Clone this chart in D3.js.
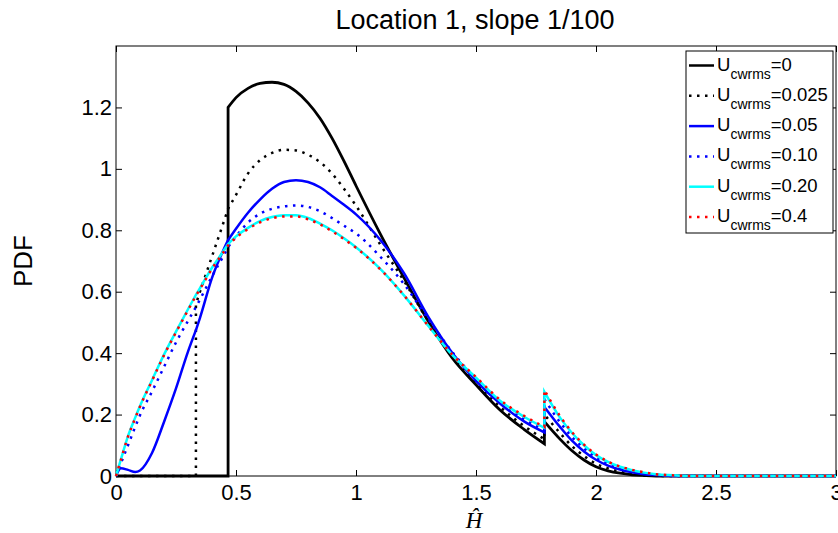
<!DOCTYPE html>
<html>
<head>
<meta charset="utf-8">
<script src="https://cdn.jsdelivr.net/npm/d3@7"></script>
<style>
  body { margin: 0; background: #fff; }
  text { font-family: "Liberation Sans", Arial, sans-serif; }
</style>
</head>
<body>
<div id="chart"></div>
<script>
// H-hat grid; repeated values mark the vertical jumps
const hHat = [0, 0.02, 0.05, 0.08, 0.1, 0.15, 0.2, 0.25, 0.3, 0.333, 0.333, 0.35, 0.4, 0.45, 0.467, 0.467,
  0.5, 0.55, 0.6, 0.65, 0.7, 0.75, 0.8, 0.85, 0.9, 0.95, 1.0, 1.1, 1.2, 1.3, 1.4, 1.5, 1.6, 1.7,
  1.785, 1.785, 1.85, 1.9, 1.95, 2.0, 2.05, 2.1, 2.15, 2.2, 2.25, 2.3, 2.35, 2.4, 2.5, 3.0];

const pdfU0 = [0, 0, 0, 0, 0, 0, 0, 0, 0, 0, 0, 0, 0, 0, 0, 1.2,
  1.232, 1.262, 1.278, 1.282, 1.275, 1.252, 1.215, 1.165, 1.1, 1.025, 0.945, 0.79, 0.645, 0.505, 0.385, 0.297, 0.215, 0.152,
  0.105, 0.177, 0.12, 0.082, 0.052, 0.03, 0.017, 0.009, 0.004, 0.0015, 0, 0, 0, 0, 0, 0];

const pdfU025 = [0, 0, 0, 0, 0, 0, 0, 0, 0, 0, 0.56, 0.6, 0.715, 0.83, 0.87, 0.87,
  0.915, 0.985, 1.028, 1.052, 1.062, 1.06, 1.046, 1.022, 0.985, 0.935, 0.88, 0.755, 0.635, 0.505, 0.39, 0.302, 0.225, 0.163,
  0.12, 0.2, 0.14, 0.097, 0.065, 0.04, 0.025, 0.014, 0.007, 0.003, 0.001, 0, 0, 0, 0, 0];

const pdfU05 = [0, 0.025, 0.02, 0.013, 0.018, 0.075, 0.176, 0.285, 0.405, 0.475, 0.475, 0.515, 0.645, 0.74, 0.768, 0.768,
  0.805, 0.857, 0.9, 0.935, 0.957, 0.963, 0.957, 0.94, 0.912, 0.883, 0.852, 0.77, 0.66, 0.52, 0.402, 0.31, 0.236, 0.178,
  0.142, 0.225, 0.16, 0.115, 0.08, 0.053, 0.034, 0.021, 0.012, 0.006, 0.003, 0.001, 0, 0, 0, 0];

const pdfU10 = [0, 0.04, 0.1, 0.16, 0.198, 0.275, 0.355, 0.435, 0.505, 0.55, 0.55, 0.575, 0.65, 0.72, 0.745, 0.745,
  0.78, 0.825, 0.854, 0.87, 0.878, 0.881, 0.876, 0.862, 0.84, 0.815, 0.79, 0.715, 0.625, 0.512, 0.405, 0.315, 0.24, 0.185,
  0.15, 0.25, 0.175, 0.127, 0.09, 0.06, 0.04, 0.025, 0.015, 0.008, 0.004, 0.0015, 0.0005, 0, 0, 0];

const pdfU20 = [0, 0.053, 0.13, 0.19, 0.228, 0.312, 0.395, 0.47, 0.543, 0.59, 0.59, 0.612, 0.678, 0.735, 0.755, 0.755,
  0.78, 0.808, 0.83, 0.843, 0.849, 0.849, 0.84, 0.822, 0.8, 0.774, 0.745, 0.675, 0.588, 0.49, 0.395, 0.32, 0.245, 0.193,
  0.157, 0.274, 0.19, 0.14, 0.1, 0.068, 0.046, 0.03, 0.019, 0.011, 0.006, 0.003, 0.001, 0, 0, 0];

const pdfU40 = [0, 0.052, 0.128, 0.188, 0.226, 0.31, 0.393, 0.468, 0.54, 0.587, 0.587, 0.609, 0.675, 0.731, 0.751, 0.751,
  0.776, 0.804, 0.826, 0.839, 0.845, 0.845, 0.836, 0.819, 0.797, 0.771, 0.743, 0.674, 0.588, 0.49, 0.396, 0.322, 0.248, 0.196,
  0.16, 0.28, 0.195, 0.143, 0.102, 0.07, 0.047, 0.031, 0.02, 0.012, 0.006, 0.003, 0.001, 0, 0, 0];

const legendValues = ["0", "0.025", "0.05", "0.10", "0.20", "0.4"];
const xTicks = [0, 0.5, 1, 1.5, 2, 2.5, 3];
const xTickLabels = ["0", "0.5", "1", "1.5", "2", "2.5", "3"];
const yTicks = [0, 0.2, 0.4, 0.6, 0.8, 1, 1.2];
const yTickLabels = ["0", "0.2", "0.4", "0.6", "0.8", "1", "1.2"];

const series = [
  { values: pdfU0, color: "#000000", dash: null, w: 2.8 },
  { values: pdfU025, color: "#000000", dash: "2.5,5.5", w: 2.5 },
  { values: pdfU05, color: "#0000ff", dash: null, w: 2.5 },
  { values: pdfU10, color: "#0000ff", dash: "2.5,5.5", w: 2.5 },
  { values: pdfU20, color: "#00ffff", dash: null, w: 2.5 },
  { values: pdfU40, color: "#ff0000", dash: "2.5,5.5", w: 2.5 }
];

// Layout
const width = 838, height = 533;
const plotL = 116, plotR = 836, plotT = 46, plotB = 476;

const svg = d3.select("#chart").append("svg")
  .attr("width", width)
  .attr("height", height);

const x = d3.scaleLinear().domain([0, 3]).range([plotL, plotR]);
const y = d3.scaleLinear().domain([0, 1.4]).range([plotB, plotT]);

// axes (ticks point inward, like matlab)
function styleAxis(g) {
  g.select(".domain").remove();
  g.attr("font-family", null).attr("font-size", 22);
  g.selectAll(".tick line").attr("stroke", "#000");
  g.selectAll(".tick text").attr("fill", "#000");
}

svg.append("g")
  .attr("transform", `translate(0,${plotB})`)
  .call(d3.axisBottom(x).tickValues(xTicks).tickFormat((d, i) => xTickLabels[i])
    .tickSizeInner(-6).tickSizeOuter(0).tickPadding(8))
  .call(styleAxis);

svg.append("g")
  .attr("transform", `translate(0,${plotT})`)
  .call(d3.axisTop(x).tickValues(xTicks).tickFormat("").tickSizeInner(-6).tickSizeOuter(0))
  .call(styleAxis);

svg.append("g")
  .attr("transform", `translate(${plotL},0)`)
  .call(d3.axisLeft(y).tickValues(yTicks).tickFormat((d, i) => yTickLabels[i])
    .tickSizeInner(-6).tickSizeOuter(0).tickPadding(4))
  .call(styleAxis);

svg.append("g")
  .attr("transform", `translate(${plotR},0)`)
  .call(d3.axisRight(y).tickValues(yTicks).tickFormat("").tickSizeInner(-6).tickSizeOuter(0))
  .call(styleAxis);

svg.append("rect")
  .attr("x", plotL).attr("y", plotT)
  .attr("width", plotR - plotL).attr("height", plotB - plotT)
  .attr("fill", "none").attr("stroke", "#000").attr("stroke-width", 1);

// curves, split at the jumps and joined with straight vertical pieces
const line = d3.line()
  .x(d => x(d[0]))
  .y(d => y(d[1]))
  .curve(d3.curveMonotoneX);

function jumpPath(vals) {
  const pts = hHat.map((h, i) => [h, vals[i]]);
  const segs = [[pts[0]]];
  for (let i = 1; i < pts.length; i++) {
    if (pts[i][0] === pts[i - 1][0]) segs.push([]);
    segs[segs.length - 1].push(pts[i]);
  }
  return segs.map((s, i) => {
    const d = line(s);
    return i ? "L" + d.slice(1) : d;
  }).join("");
}

svg.append("g").selectAll("path")
  .data(series)
  .join("path")
  .attr("d", d => jumpPath(d.values))
  .attr("fill", "none")
  .attr("stroke", d => d.color)
  .attr("stroke-width", d => d.w)
  .attr("stroke-dasharray", d => d.dash);

// Legend
const lg = svg.append("g");
lg.append("rect")
  .attr("x", 686).attr("y", 51)
  .attr("width", 147).attr("height", 182)
  .attr("fill", "#fff").attr("stroke", "#000").attr("stroke-width", 1);

const rows = lg.selectAll(".row")
  .data(series)
  .join("g")
  .attr("class", "row")
  .attr("transform", (d, i) => `translate(0,${65.5 + i * 30.3})`);

rows.append("line")
  .attr("x1", 689).attr("x2", 714)
  .attr("stroke", d => d.color)
  .attr("stroke-width", 2.5)
  .attr("stroke-dasharray", d => d.dash);

const lt = rows.append("text")
  .attr("x", 717).attr("y", 5)
  .attr("font-size", 18.5)
  .attr("fill", "#000");
lt.append("tspan").text("U");
lt.append("tspan").attr("dy", 8).attr("font-size", 14).text("cwrms");
lt.append("tspan").attr("dy", -8).text((d, i) => "=" + legendValues[i]);

// Title and labels
svg.append("text")
  .attr("x", 475).attr("y", 29)
  .attr("text-anchor", "middle")
  .attr("font-size", 27)
  .text("Location 1, slope 1/100");

svg.append("text")
  .attr("transform", "translate(32,261) rotate(-90)")
  .attr("text-anchor", "middle")
  .attr("font-size", 26)
  .text("PDF");

svg.append("text")
  .attr("x", 474).attr("y", 528)
  .attr("text-anchor", "middle")
  .attr("font-size", 23)
  .style("font-family", "'Liberation Serif', 'DejaVu Serif', serif")
  .style("font-style", "italic")
  .text("Ĥ");
</script>
</body>
</html>
